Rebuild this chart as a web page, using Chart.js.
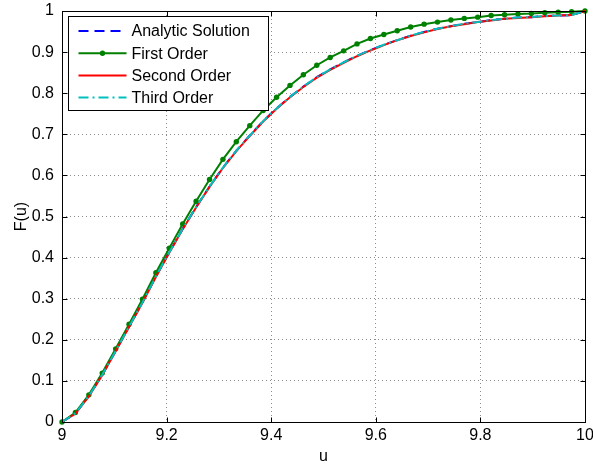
<!DOCTYPE html>
<html>
<head>
<meta charset="utf-8">
<title>F(u)</title>
<script src="https://cdn.jsdelivr.net/npm/chart.js@4.4.1/dist/chart.umd.min.js"></script>
<style>
	html, body { margin:0; padding:0; background:#fff; }
	canvas { display:block; }
</style>
</head>
<body>
<canvas id="myChart" width="593" height="466"></canvas>
<script>
var u = [9.0000, 9.0256, 9.0513, 9.0769, 9.1026, 9.1282, 9.1538, 9.1795, 9.2051, 9.2308,
	9.2564, 9.2821, 9.3077, 9.3333, 9.3590, 9.3846, 9.4103, 9.4359, 9.4615, 9.4872,
	9.5128, 9.5385, 9.5641, 9.5897, 9.6154, 9.6410, 9.6667, 9.6923, 9.7179, 9.7436,
	9.7692, 9.7949, 9.8205, 9.8462, 9.8718, 9.8974, 9.9231, 9.9487, 9.9744, 10.0000];

var analytic = [0, 0.021, 0.063, 0.115, 0.173, 0.232, 0.291, 0.354, 0.413, 0.470,
	0.523, 0.573, 0.619, 0.660, 0.697, 0.732, 0.763, 0.791, 0.816, 0.839,
	0.858, 0.875, 0.891, 0.905, 0.918, 0.929, 0.940, 0.949, 0.957, 0.963,
	0.969, 0.973, 0.978, 0.981, 0.984, 0.985, 0.988, 0.989, 0.990, 1];

var firstOrder = [0, 0.023, 0.066, 0.119, 0.178, 0.238, 0.299, 0.363, 0.423, 0.482,
	0.537, 0.590, 0.639, 0.682, 0.721, 0.758, 0.790, 0.819, 0.845, 0.868,
	0.887, 0.903, 0.920, 0.933, 0.943, 0.952, 0.961, 0.968, 0.973, 0.978,
	0.982, 0.985, 0.989, 0.991, 0.993, 0.994, 0.996, 0.997, 0.998, 1];

var secondOrder = [0, 0.020, 0.062, 0.114, 0.172, 0.231, 0.290, 0.353, 0.412, 0.469,
	0.522, 0.572, 0.618, 0.659, 0.696, 0.731, 0.762, 0.790, 0.815, 0.838,
	0.857, 0.874, 0.890, 0.904, 0.917, 0.929, 0.939, 0.948, 0.956, 0.963,
	0.968, 0.973, 0.977, 0.981, 0.983, 0.985, 0.987, 0.989, 0.990, 1];

var thirdOrder = [0, 0.021, 0.063, 0.115, 0.173, 0.232, 0.291, 0.354, 0.413, 0.470,
	0.523, 0.573, 0.619, 0.660, 0.697, 0.732, 0.763, 0.791, 0.816, 0.839,
	0.858, 0.875, 0.891, 0.905, 0.918, 0.929, 0.940, 0.949, 0.957, 0.963,
	0.969, 0.973, 0.978, 0.981, 0.984, 0.985, 0.988, 0.989, 0.990, 1];

var names = ['Analytic Solution', 'First Order', 'Second Order', 'Third Order'];
var xTicks = [9, 9.2, 9.4, 9.6, 9.8, 10];
var yTicks = [0, 0.1, 0.2, 0.3, 0.4, 0.5, 0.6, 0.7, 0.8, 0.9, 1];

var font = "'Liberation Sans', Arial, sans-serif";
var ctx;
var chart;

function points(ys)
{
	var p = [];
	for(var i = 0; i < u.length; i++)
	{
		p.push({x: u[i], y: ys[i]});
	}
	return p;
}

function fmt(v)
{
	return String(Math.round(v*10)/10);
}

// box round the axes, inward tick marks on all four sides, then the legend
var frame = {
	id: 'frame',
	afterDatasetsDraw: function(c)
	{
		var g = c.ctx;
		var a = c.chartArea;
		var xs = c.scales.x;
		var ys = c.scales.y;
		var L = Math.round(a.left) + 0.5, R = Math.round(a.right) + 0.5;
		var T = Math.round(a.top) + 0.5, B = Math.round(a.bottom) + 0.5;
		g.save();
		g.strokeStyle = '#000';
		g.lineWidth = 1;
		g.setLineDash([]);
		g.beginPath();
		xTicks.forEach(function(v){
			var px = Math.round(xs.getPixelForValue(v)) + 0.5;
			g.moveTo(px, B); g.lineTo(px, B - 5);
			g.moveTo(px, T); g.lineTo(px, T + 5);
		});
		yTicks.forEach(function(v){
			var py = Math.round(ys.getPixelForValue(v)) + 0.5;
			g.moveTo(L, py); g.lineTo(L + 5, py);
			g.moveTo(R, py); g.lineTo(R - 5, py);
		});
		g.stroke();
		g.strokeRect(L, T, R - L, B - T);
		g.restore();
	},
	afterDraw: function(c)
	{
		var g = c.ctx;
		var a = c.chartArea;
		var bx = Math.round(a.left) + 6.5;
		var by = Math.round(a.top) + 5.5;
		g.save();
		g.fillStyle = '#fff';
		g.fillRect(bx, by, 200, 94);
		g.strokeStyle = '#000';
		g.lineWidth = 1;
		g.strokeRect(bx, by, 200, 94);
		g.font = '16px ' + font;
		g.textBaseline = 'middle';
		c.data.datasets.forEach(function(ds, i){
			var y = by + 14.5 + i*22.2;
			g.strokeStyle = ds.borderColor;
			g.lineWidth = ds.borderWidth;
			g.setLineDash(ds.borderDash || []);
			g.beginPath();
			g.moveTo(bx + 10, y);
			g.lineTo(bx + 58, y);
			g.stroke();
			g.setLineDash([]);
			if(ds.pointRadius > 0)
			{
				g.fillStyle = ds.pointBackgroundColor;
				g.beginPath();
				g.arc(bx + 34, y, ds.pointRadius, 0, Math.PI*2);
				g.fill();
			}
			g.fillStyle = '#000';
			g.fillText(names[i], bx + 63, y + 1);
		});
		g.restore();
	}
};

window.onload = function()
{
	Chart.defaults.font.family = font;
	Chart.defaults.color = '#000';
	ctx = document.getElementById('myChart').getContext('2d');
	chart = new Chart(ctx, {
		type: 'line',
		data: {
			datasets: [{
				label: names[0],
				data: points(analytic),
				borderColor: '#0000ff',
				borderWidth: 2,
				borderDash: [10, 6],
				pointRadius: 0,
				order: 4
			}, {
				label: names[1],
				data: points(firstOrder),
				borderColor: '#008000',
				backgroundColor: '#008000',
				borderWidth: 2,
				pointRadius: 2.7,
				pointBackgroundColor: '#008000',
				pointBorderWidth: 0,
				order: 3
			}, {
				label: names[2],
				data: points(secondOrder),
				borderColor: '#ff0000',
				borderWidth: 2,
				pointRadius: 0,
				order: 2
			}, {
				label: names[3],
				data: points(thirdOrder),
				borderColor: '#00bfbf',
				borderWidth: 2,
				borderDash: [10, 4, 2, 4],
				pointRadius: 0,
				order: 1
			}]
		},
		options: {
			responsive: false,
			devicePixelRatio: 1,
			animation: false,
			clip: false,
			layout: { padding: { top: 11, right: 8, left: 0, bottom: 0 } },
			plugins: {
				legend: { display: false },
				tooltip: { enabled: false }
			},
			scales: {
				x: {
					type: 'linear',
					min: 9,
					max: 10,
					afterBuildTicks: function(s){ s.ticks = xTicks.map(function(v){ return {value: v}; }); },
					afterFit: function(s){ s.height = 44; s.paddingLeft = 0; s.paddingRight = 0; },
					ticks: { font: { size: 16 }, padding: 4, maxRotation: 0, autoSkip: false, callback: fmt },
					grid: { drawTicks: false, color: 'rgba(0,0,0,0.45)', lineWidth: 1 },
					border: { display: false, dash: [1, 3] },
					title: { display: true, text: 'u', font: { size: 16 }, padding: { top: 0, bottom: 0 } }
				},
				y: {
					min: 0,
					max: 1,
					afterBuildTicks: function(s){ s.ticks = yTicks.map(function(v){ return {value: v}; }); },
					afterFit: function(s){ s.width = 62; s.paddingTop = 0; s.paddingBottom = 0; },
					ticks: { font: { size: 16 }, padding: 8, autoSkip: false, callback: fmt },
					grid: { drawTicks: false, color: 'rgba(0,0,0,0.45)', lineWidth: 1 },
					border: { display: false, dash: [1, 3] },
					title: { display: true, text: 'F(u)', font: { size: 16 }, padding: { top: 12, bottom: 0 } }
				}
			}
		},
		plugins: [frame]
	});
}
</script>
</body>
</html>
